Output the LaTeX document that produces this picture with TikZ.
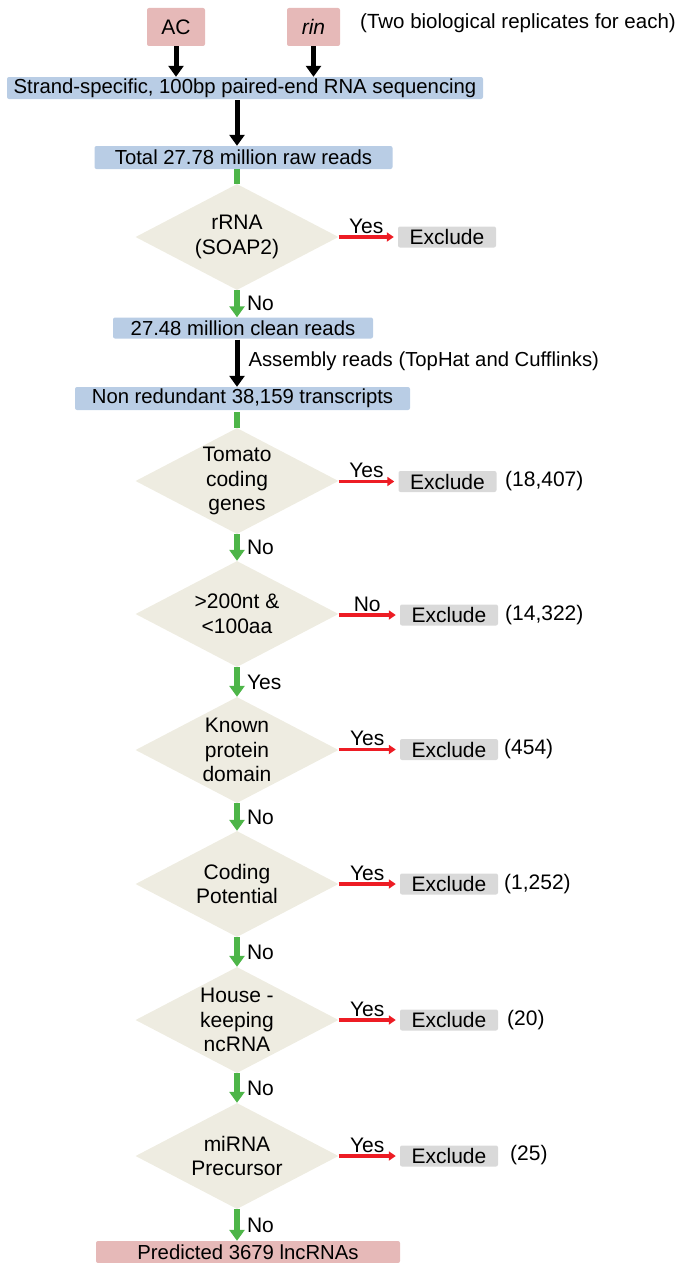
\documentclass[tikz,border=0pt]{standalone}
\usepackage{fontspec}
\setmainfont{Liberation Sans}
\usetikzlibrary{shapes.geometric,arrows.meta,calc}
\definecolor{pinkbox}{RGB}{230,185,184}
\definecolor{bluebox}{RGB}{185,205,229}
\definecolor{graybox}{RGB}{217,217,217}
\definecolor{tanfill}{RGB}{238,236,225}
\definecolor{grn}{RGB}{77,181,72}
\definecolor{rd}{RGB}{237,28,36}
\begin{document}
\begin{tikzpicture}[x=1pt,y=-1pt,
 every node/.style={font=\fontsize{21}{24}\selectfont, inner sep=0pt},
 box/.style={rounded corners=2pt, minimum height=22pt},
 bluebx/.style={box, fill=bluebox, font=\fontsize{20.3}{24}\selectfont},
 pinkbx/.style={box, fill=pinkbox, font=\fontsize{20.3}{24}\selectfont},
 exbx/.style={box, fill=graybox, minimum width=98pt, minimum height=21pt},
 dec/.style={diamond, fill=tanfill, minimum width=203pt, minimum height=106pt},
 dtext/.style={align=center, font=\fontsize{21}{24.5}\selectfont},
 blk/.style={draw=black, line width=5pt, -{Triangle[width=15pt,length=11pt]}},
 grnar/.style={draw=grn, line width=6pt, -{Triangle[width=15pt,length=11pt]}},
 grnln/.style={draw=grn, line width=6pt},
 redar/.style={draw=rd, line width=3.5pt, -{Triangle[width=9pt,length=7pt]}},
 lbl/.style={anchor=west},
]
\useasboundingbox (0,0) rectangle (679,1263);

% top
\node[pinkbx, minimum width=58pt, minimum height=38pt, font=\fontsize{21}{24}\selectfont] (ac) at (176,27) {AC};
\node[pinkbx, minimum width=53pt, minimum height=38pt, font=\fontsize{21}{24}\selectfont] (rin) at (313.5,27) {\itshape rin};
\node[font=\fontsize{20.5}{24}\selectfont] (note) at (518,23) {(Two biological replicates for each)};
\node[bluebx, minimum width=476pt] (seq) at (245,88) {Strand-specific, 100bp paired-end RNA sequencing};
\node[bluebx, minimum width=298pt, minimum height=23pt] (total) at (243.5,157.5) {Total 27.78 million raw reads};

% decisions
\node[dec] (d1) at (237,237) {};
\node[dtext] (t1) at (d1) {rRNA\\(SOAP2)};
\node[exbx] (e1) at (447,237) {Exclude};

\node[bluebx, minimum width=260pt, minimum height=21pt] (clean) at (243,328) {27.48 million clean reads};
\node[bluebx, minimum width=335pt, minimum height=23pt] (nr) at (242.5,398.5) {Non redundant 38,159 transcripts};

\node[dec] (d2) at (237,481) {};
\node[dtext] (t2) at (d2) {Tomato\\coding\\genes};
\node[exbx] (e2) at (447.5,481.5) {Exclude};
\node[lbl] (c2) at (505,481) {(18,407)};

\node[dec] (d3) at (237,614) {};
\node[dtext] (t3) at (d3) {>200nt \&\\<100aa};
\node[exbx] (e3) at (449,615) {Exclude};
\node[lbl] (c3) at (505,615) {(14,322)};

\node[dec] (d4) at (237,750) {};
\node[dtext] (t4) at (d4) {Known\\protein\\domain};
\node[exbx] (e4) at (449,749.5) {Exclude};
\node[lbl] (c4) at (504,749.5) {(454)};

\node[dec] (d5) at (237,884) {};
\node[dtext] (t5) at (d5) {Coding\\Potential};
\node[exbx] (e5) at (449,884) {Exclude};
\node[lbl] (c5) at (504,884) {(1,252)};

\node[dec] (d6) at (237,1020) {};
\node[dtext] (t6) at (d6) {House -\\keeping\\ncRNA};
\node[exbx] (e6) at (449,1020) {Exclude};
\node[lbl] (c6) at (507,1020) {(20)};

\node[dec] (d7) at (237,1156) {};
\node[dtext] (t7) at (d7) {miRNA\\Precursor};
\node[exbx] (e7) at (449,1156) {Exclude};
\node[lbl] (c7) at (510,1155) {(25)};

\node[pinkbx, minimum width=304pt] (pred) at (248,1252) {Predicted 3679 lncRNAs};

% black arrows
\draw[blk] (ac.south) -- (ac |- seq.north);
\draw[blk] (rin.south) -- (rin |- seq.north);
\draw[blk] ($(seq.south -| d1)+(0,1)$) -- (total.north -| d1);
\draw[blk] ($(clean.south -| d1)+(0,1)$) -- (nr.north -| d1)
  node[pos=0.45, anchor=west, xshift=9pt, font=\fontsize{20.3}{24}\selectfont] (asm) {Assembly reads (TopHat and Cufflinks)};

% green
\draw[grnln] (total.south -| d1) -- (d1.north);
\draw[grnar] (d1.south) -- (clean.north -| d1) node[midway, anchor=west, xshift=7pt] (n1) {No};
\draw[grnln] ($(nr.south -| d2)+(0,2)$) -- (d2.north);
\draw[grnar] (d2.south) -- (d3.north) node[midway, anchor=west, xshift=7pt] (n2) {No};
\draw[grnar] (d3.south) -- (d4.north) node[midway, anchor=west, xshift=7pt] (n3) {Yes};
\draw[grnar] (d4.south) -- (d5.north) node[midway, anchor=west, xshift=7pt] (n4) {No};
\draw[grnar] (d5.south) -- (d6.north) node[midway, anchor=west, xshift=7pt] (n5) {No};
\draw[grnar] (d6.south) -- (d7.north) node[midway, anchor=west, xshift=7pt] (n6) {No};
\draw[grnar] (d7.south) -- (pred.north -| d7) node[midway, anchor=west, xshift=7pt] (n7) {No};

% red
\draw[redar] (d1.east) -- ($(e1.west)+(-4,0)$) node[midway, anchor=base, yshift=4pt] (y1) {Yes};
\draw[redar] (d2.east |- e2) -- ($(e2.west)+(-4,0)$) node[midway, anchor=base, yshift=4pt] (y2) {Yes};
\draw[redar] (d3.east |- e3) -- ($(e3.west)+(-4,0)$) node[midway, anchor=base, yshift=4pt] (y3) {No};
\draw[redar] (d4.east |- e4) -- ($(e4.west)+(-4,0)$) node[midway, anchor=base, yshift=4pt] (y4) {Yes};
\draw[redar] (d5.east |- e5) -- ($(e5.west)+(-4,0)$) node[midway, anchor=base, yshift=4pt] (y5) {Yes};
\draw[redar] (d6.east |- e6) -- ($(e6.west)+(-4,0)$) node[midway, anchor=base, yshift=4pt] (y6) {Yes};
\draw[redar] (d7.east |- e7) -- ($(e7.west)+(-4,0)$) node[midway, anchor=base, yshift=4pt] (y7) {Yes};
\end{tikzpicture}
\end{document}
